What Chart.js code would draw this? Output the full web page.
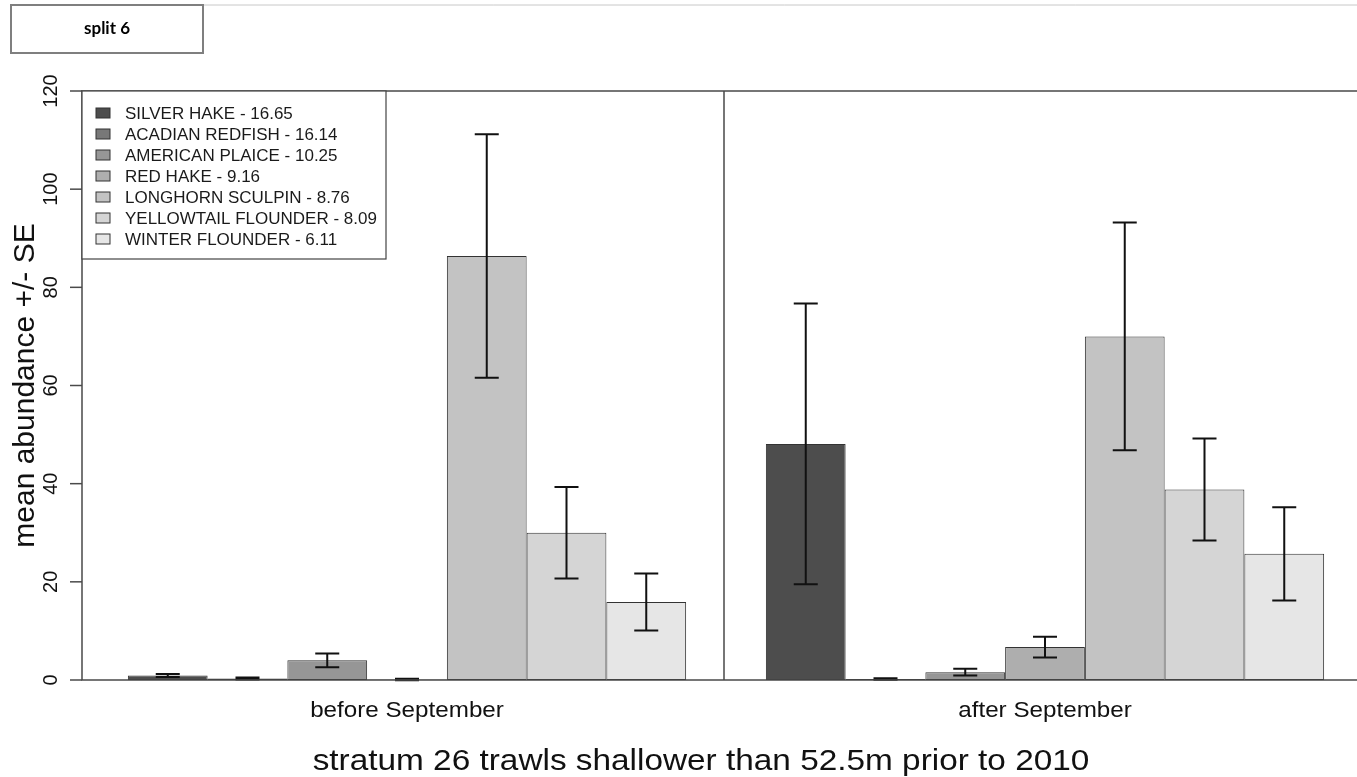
<!DOCTYPE html>
<html>
<head>
<meta charset="utf-8">
<script src="https://cdn.jsdelivr.net/npm/chart.js@4"></script>
<style>
  html, body { margin: 0; padding: 0; background: #fff; overflow: hidden; }
  #wrap { width: 1366px; height: 777px; }
</style>
</head>
<body>
<div id="wrap"><canvas id="abundanceChart" width="1366" height="777"></canvas></div>
<script>
const periods = ["before September", "after September"];

const species = [
  "SILVER HAKE - 16.65",
  "ACADIAN REDFISH - 16.14",
  "AMERICAN PLAICE - 10.25",
  "RED HAKE - 9.16",
  "LONGHORN SCULPIN - 8.76",
  "YELLOWTAIL FLOUNDER - 8.09",
  "WINTER FLOUNDER - 6.11",
];

const speciesColors = ["#4d4d4d", "#787878", "#969696", "#aeaeae", "#c3c3c3", "#d5d5d5", "#e6e6e6"];

// mean abundance and standard error, one value per species
const meanBefore = [0.9, 0.3, 4.0, 0.1, 86.4, 30.0, 15.9];
const seBefore = [0.3, 0.2, 1.4, 0.15, 24.8, 9.3, 5.8];
const meanAfter = [48.1, 0.2, 1.6, 6.7, 70.0, 38.8, 25.7];
const seAfter = [28.6, 0.15, 0.7, 2.1, 23.2, 10.4, 9.5];

const yTicks = [0, 20, 40, 60, 80, 100, 120];

const chartTitle = "stratum 26 trawls shallower than 52.5m prior to 2010";
const yTitle = "mean abundance +/- SE";
const panelLabel = "split 6";

const FONT = '"Liberation Sans", Arial, sans-serif';
const FRAME_LEFT = 82;

function stretchedText(ctx, text, x, y, k) {
  ctx.save();
  ctx.translate(x, y);
  ctx.scale(k, 1);
  ctx.fillText(text, 0, 0);
  ctx.restore();
}

const decorations = {
  id: "decorations",
  afterDatasetsDraw(chart) {
    const ctx = chart.ctx;
    const area = chart.chartArea;
    const xs = chart.scales.x;
    const ys = chart.scales.y;
    const W = chart.width;

    ctx.save();

    // error bars
    ctx.strokeStyle = "#111";
    ctx.lineWidth = 2;
    chart.data.datasets.forEach((ds, i) => {
      const meta = chart.getDatasetMeta(i);
      meta.data.forEach((bar, j) => {
        const m = ds.data[j];
        const se = ds.se[j];
        const top = ys.getPixelForValue(m + se);
        const bot = ys.getPixelForValue(m - se);
        ctx.beginPath();
        ctx.moveTo(bar.x, top);
        ctx.lineTo(bar.x, bot);
        ctx.moveTo(bar.x - 12, top);
        ctx.lineTo(bar.x + 12, top);
        ctx.moveTo(bar.x - 12, bot);
        ctx.lineTo(bar.x + 12, bot);
        ctx.stroke();
      });
    });

    // plot frame and divider
    ctx.strokeStyle = "#4a4a4a";
    ctx.lineWidth = 1.5;
    ctx.beginPath();
    ctx.moveTo(W, area.top);
    ctx.lineTo(FRAME_LEFT, area.top);
    ctx.lineTo(FRAME_LEFT, area.bottom);
    ctx.lineTo(W, area.bottom);
    const mid = (xs.getPixelForValue(0) + xs.getPixelForValue(1)) / 2 - 2;
    ctx.moveTo(mid, area.top);
    ctx.lineTo(mid, area.bottom);
    ctx.stroke();

    // y ticks
    ctx.fillStyle = "#111";
    ctx.font = "20px " + FONT;
    ctx.textAlign = "center";
    ctx.textBaseline = "alphabetic";
    yTicks.forEach((t) => {
      const y = ys.getPixelForValue(t);
      ctx.beginPath();
      ctx.moveTo(FRAME_LEFT - 12, y);
      ctx.lineTo(FRAME_LEFT, y);
      ctx.stroke();
      ctx.save();
      ctx.translate(57, y);
      ctx.rotate(-Math.PI / 2);
      ctx.fillText(String(t), 0, 0);
      ctx.restore();
    });

    // y title
    ctx.font = "30px " + FONT;
    ctx.save();
    ctx.translate(34, (area.top + area.bottom) / 2);
    ctx.rotate(-Math.PI / 2);
    ctx.fillText(yTitle, 0, 0);
    ctx.restore();

    // category labels
    ctx.font = "22px " + FONT;
    periods.forEach((p, j) => {
      stretchedText(ctx, p, xs.getPixelForValue(j), 717, 1.1);
    });

    // x title
    ctx.font = "29px " + FONT;
    stretchedText(ctx, chartTitle, 701, 770, 1.15);

    // legend
    ctx.fillStyle = "#fff";
    ctx.fillRect(FRAME_LEFT, area.top, 304, 168);
    ctx.strokeStyle = "#444";
    ctx.lineWidth = 1.2;
    ctx.strokeRect(FRAME_LEFT, area.top, 304, 168);
    ctx.font = "16.5px " + FONT;
    ctx.textAlign = "left";
    ctx.textBaseline = "middle";
    species.forEach((s, i) => {
      const y = 113 + i * 21;
      ctx.fillStyle = speciesColors[i];
      ctx.fillRect(96, y - 5, 14, 10);
      ctx.strokeStyle = "#333";
      ctx.lineWidth = 1;
      ctx.strokeRect(96, y - 5, 14, 10);
      ctx.fillStyle = "#1a1a1a";
      stretchedText(ctx, s, 125, y + 1, 1.03);
    });

    // panel label box
    ctx.strokeStyle = "#c8c8c8";
    ctx.lineWidth = 1;
    ctx.beginPath();
    ctx.moveTo(203, 5);
    ctx.lineTo(W, 5);
    ctx.stroke();
    ctx.strokeStyle = "#7f7f7f";
    ctx.lineWidth = 2;
    ctx.strokeRect(11, 5, 192, 48);
    ctx.fillStyle = "#000";
    ctx.font = 'bold 17px Lato, "Open Sans", sans-serif';
    ctx.textAlign = "center";
    ctx.textBaseline = "middle";
    ctx.fillText(panelLabel, 107, 29);

    ctx.restore();
  },
};

const ctx = document.getElementById("abundanceChart").getContext("2d");

new Chart(ctx, {
  type: "bar",

  data: {
    labels: periods,

    datasets: species.map((name, i) => ({
      label: name,
      data: [meanBefore[i], meanAfter[i]],
      se: [seBefore[i], seAfter[i]],
      backgroundColor: speciesColors[i],
      borderColor: "#333",
      borderWidth: 1,
      borderSkipped: false,
      categoryPercentage: 0.875,
      barPercentage: 1,
    })),
  },

  options: {
    responsive: false,
    animation: false,
    events: [],

    layout: {
      padding: { left: 88, right: 2, top: 91, bottom: 97 },
    },

    plugins: {
      legend: { display: false },
      tooltip: { enabled: false },
    },

    scales: {
      x: {
        display: false,
        offset: true,
      },
      y: {
        display: false,
        min: 0,
        max: 120,
      },
    },
  },

  plugins: [decorations],
});
</script>
</body>
</html>
